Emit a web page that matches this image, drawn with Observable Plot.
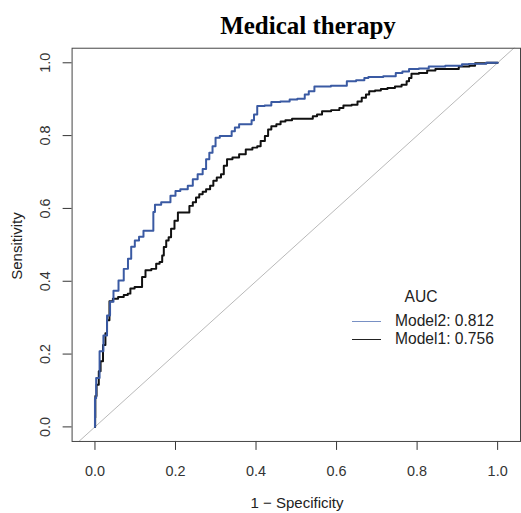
<!DOCTYPE html>
<html>
<head>
<meta charset="utf-8">
<script src="https://cdn.jsdelivr.net/npm/d3@7"></script>
<script src="https://cdn.jsdelivr.net/npm/@observablehq/plot@0.6"></script>
<style>
html, body { margin: 0; padding: 0; background: #fff; overflow: hidden; }
#wrap { position: relative; width: 521px; height: 513px; overflow: hidden; font-family: "Liberation Sans", Arial, sans-serif; color: #222; }
#wrap svg { position: absolute; left: 0; top: 0; }
.abs { position: absolute; white-space: nowrap; }
.title { left: 308px; top: 26px; transform: translate(-50%, -50%); font: bold 25px "Liberation Serif", "Times New Roman", serif; color: #000; }
.xlab { left: 297px; top: 502px; transform: translate(-50%, -50%); font-size: 15px; }
.ylab { left: 16px; top: 246px; transform: translate(-50%, -50%) rotate(-90deg); font-size: 15px; }
.leg { font-size: 15.6px; transform: translateY(-50%); }
.legline { height: 1px; width: 29px; }
</style>
</head>
<body>
<div id="wrap"></div>
<script>
// ---- data ----
const titleText = "Medical therapy";
const xLabel = "1 − Specificity";
const yLabel = "Sensitivity";
const xTicks = [0, 0.2, 0.4, 0.6, 0.8, 1.0];
const yTicks = [0, 0.2, 0.4, 0.6, 0.8, 1.0];
const seriesNames = ["Model2", "Model1"];
const seriesAUC = [0.812, 0.756];

const model2Fpr = [0, 0, 0.006, 0.017, 0.025, 0.035, 0.040, 0.052, 0.065, 0.078, 0.086, 0.094, 0.104, 0.115, 0.126, 0.144, 0.146, 0.152, 0.177, 0.198, 0.202, 0.222, 0.239, 0.247, 0.263, 0.272, 0.280, 0.288, 0.296, 0.303, 0.317, 0.338, 0.341, 0.354, 0.362, 0.387, 0.391, 0.399, 0.407, 0.436, 0.440, 0.481, 0.486, 0.519, 0.523, 0.539, 0.551, 0.621, 0.630, 0.667, 0.671, 0.687, 0.745, 0.749, 0.778, 0.782, 0.827, 0.831, 0.909, 0.914, 0.942, 1];
const model2Sens = [0, 0.079, 0.134, 0.208, 0.251, 0.306, 0.344, 0.374, 0.402, 0.434, 0.462, 0.495, 0.512, 0.522, 0.539, 0.539, 0.590, 0.610, 0.617, 0.635, 0.648, 0.653, 0.662, 0.680, 0.694, 0.708, 0.735, 0.753, 0.771, 0.794, 0.799, 0.799, 0.812, 0.822, 0.831, 0.831, 0.842, 0.858, 0.881, 0.883, 0.892, 0.894, 0.899, 0.901, 0.913, 0.922, 0.935, 0.937, 0.949, 0.952, 0.958, 0.961, 0.963, 0.972, 0.976, 0.983, 0.984, 0.990, 0.992, 0.996, 0.997, 1];

const model1Fpr = [0, 0.001, 0.001, 0.007, 0.012, 0.016, 0.024, 0.028, 0.032, 0.040, 0.049, 0.066, 0.077, 0.086, 0.090, 0.107, 0.115, 0.119, 0.132, 0.148, 0.156, 0.165, 0.169, 0.173, 0.181, 0.185, 0.193, 0.202, 0.210, 0.230, 0.239, 0.247, 0.255, 0.263, 0.272, 0.280, 0.292, 0.296, 0.309, 0.317, 0.323, 0.333, 0.350, 0.366, 0.383, 0.399, 0.407, 0.416, 0.428, 0.432, 0.444, 0.457, 0.465, 0.481, 0.498, 0.539, 0.543, 0.560, 0.568, 0.605, 0.609, 0.625, 0.650, 0.654, 0.671, 0.675, 0.687, 0.704, 0.716, 0.737, 0.753, 0.770, 0.778, 0.782, 0.790, 0.819, 0.831, 0.860, 0.889, 0.918, 0.942, 0.946, 1];
const model1Sens = [0, 0.025, 0.085, 0.116, 0.153, 0.180, 0.225, 0.257, 0.293, 0.345, 0.352, 0.357, 0.362, 0.366, 0.380, 0.384, 0.384, 0.412, 0.430, 0.434, 0.448, 0.453, 0.471, 0.494, 0.512, 0.521, 0.544, 0.566, 0.589, 0.589, 0.607, 0.617, 0.630, 0.639, 0.646, 0.653, 0.662, 0.676, 0.685, 0.694, 0.717, 0.735, 0.740, 0.749, 0.762, 0.767, 0.771, 0.785, 0.799, 0.817, 0.826, 0.831, 0.839, 0.842, 0.846, 0.846, 0.853, 0.858, 0.867, 0.870, 0.876, 0.883, 0.885, 0.894, 0.904, 0.913, 0.922, 0.924, 0.928, 0.931, 0.935, 0.940, 0.949, 0.958, 0.970, 0.972, 0.979, 0.983, 0.983, 0.990, 0.992, 0.999, 1];

const diagonal = [-0.1, 1.1];

// ---- build tables ----
const model2Rows = model2Fpr.map((f, i) => ({fpr: f, sens: model2Sens[i]}));
const model1Rows = model1Fpr.map((f, i) => ({fpr: f, sens: model1Sens[i]}));

const blue = "#3a5aa3";
const blueLegend = "#7890c4";
const black = "#111";
const fmt = d3.format(".1f");

const chart = Plot.plot({
  width: 524,
  height: 513,
  marginLeft: 72,
  marginRight: 1,
  marginTop: 48,
  marginBottom: 69.5,
  x: {domain: [-0.0568, 1.0568]},
  y: {domain: [-0.04, 1.04]},
  style: {fontFamily: "'Liberation Sans', Arial, sans-serif", fontSize: "14.5px", color: "#333", background: "transparent"},
  marks: [
    Plot.axisX({ticks: xTicks, tickFormat: fmt, tickSize: 9, tickPadding: 15, label: null}),
    Plot.axisY({ticks: yTicks, tickFormat: fmt, tickSize: 9, tickPadding: 13, tickRotate: -90, label: null}),
    Plot.line(diagonal, {x: d => d, y: d => d, stroke: "#b8b8b8", strokeWidth: 1, clip: true}),
    Plot.line(model1Rows, {x: "fpr", y: "sens", stroke: black, strokeWidth: 2, curve: "step"}),
    Plot.line(model2Rows, {x: "fpr", y: "sens", stroke: blue, strokeWidth: 2, curve: "step"}),
    Plot.frame({stroke: "#444", strokeWidth: 1})
  ]
});

const wrap = document.getElementById("wrap");
wrap.appendChild(chart);

function addDiv(cls, text, style) {
  const d = document.createElement("div");
  d.className = "abs " + cls;
  if (text != null) d.textContent = text;
  if (style) Object.assign(d.style, style);
  wrap.appendChild(d);
  return d;
}
addDiv("title", titleText);
addDiv("xlab", xLabel);
addDiv("ylab", yLabel);
addDiv("leg", "AUC", {left: "421px", top: "297px", transform: "translate(-50%, -50%)"});
const legColors = [blueLegend, "#222"];
seriesNames.forEach((name, i) => {
  const cy = 321 + i * 18;
  addDiv("legline", null, {left: "352px", top: (cy - 0.5) + "px", background: legColors[i]});
  addDiv("leg", name + ": " + seriesAUC[i].toFixed(3), {left: "395px", top: cy + "px"});
});
</script>
</body>
</html>
